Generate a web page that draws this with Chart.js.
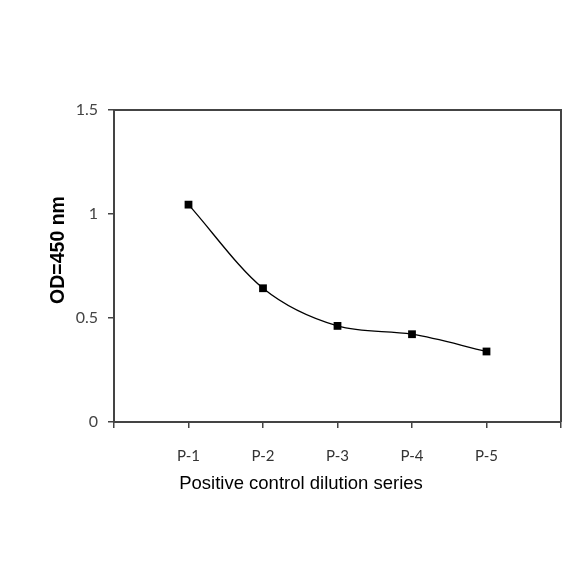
<!DOCTYPE html>
<html>
<head>
<meta charset="utf-8">
<script src="https://cdn.jsdelivr.net/npm/chart.js@4"></script>
<style>
html,body{margin:0;padding:0;background:#fff;}
#wrap{width:584px;height:584px;}
</style>
</head>
<body>
<div id="wrap"><canvas id="c" width="584" height="584"></canvas></div>
<script>
const categories = ["P-1", "P-2", "P-3", "P-4", "P-5"];
const odValues = [1.045, 0.643, 0.462, 0.422, 0.339];
const yTicks = [0, 0.5, 1, 1.5];
const xTitle = 'Positive control dilution series';
const yTitle = 'OD=450 nm';

const points = categories.map((c, i) => ({x: i + 1, y: odValues[i]}));

const boxPlugin = {
  id: 'box',
  afterDatasetsDraw(chart) {
    const {ctx, chartArea: a} = chart;
    ctx.save();
    ctx.strokeStyle = '#444';
    ctx.lineWidth = 2;
    ctx.beginPath();
    ctx.moveTo(a.left, a.top);
    ctx.lineTo(a.right, a.top);
    ctx.lineTo(a.right, a.bottom);
    ctx.stroke();
    ctx.restore();
  }
};

const titlePlugin = {
  id: 'axisTitles',
  afterDraw(chart) {
    const {ctx, chartArea: a} = chart;
    ctx.save();
    ctx.fillStyle = '#000';
    ctx.textAlign = 'center';
    ctx.textBaseline = 'middle';
    ctx.font = '18.5px "Liberation Sans", Arial, sans-serif';
    ctx.fillText(xTitle, a.left + 187, a.bottom + 62);
    ctx.translate(59, a.top + 140);
    ctx.rotate(-Math.PI / 2);
    ctx.font = 'bold 19.5px "Liberation Sans", Arial, sans-serif';
    ctx.fillText(yTitle, 0, 0);
    ctx.restore();
  }
};

new Chart(document.getElementById('c'), {
  type: 'line',
  data: {
    datasets: [{
      data: points,
      borderColor: '#000',
      borderWidth: 1.3,
      cubicInterpolationMode: 'monotone',
      pointStyle: 'rect',
      pointRadius: 5.5,
      pointBackgroundColor: '#000',
      pointBorderColor: '#000',
      pointBorderWidth: 0,
      fill: false
    }]
  },
  options: {
    responsive: false,
    animation: false,
    layout: {padding: {left: 0, top: 110, right: 23, bottom: 0}},
    plugins: {legend: {display: false}, tooltip: {enabled: false}},
    scales: {
      x: {
        type: 'linear',
        min: 0,
        max: categories.length + 1,
        afterFit(s) { s.height = 162; },
        afterBuildTicks(s) { s.ticks = Array.from({length: categories.length + 2}, (_, i) => ({value: i})); },
        grid: {display: true, drawOnChartArea: false, drawTicks: true, tickLength: 6, color: '#444', lineWidth: 1.5},
        border: {display: true, color: '#444', width: 2},
        ticks: {
          autoSkip: false, maxRotation: 0, padding: 19,
          color: '#333',
          font: {family: 'Lato', size: 15},
          callback: v => categories[v - 1] || ''
        }
      },
      y: {
        min: 0,
        max: 1.5,
        afterFit(s) { s.width = 114; },
        afterBuildTicks(s) { s.ticks = yTicks.map(v => ({value: v})); },
        grid: {display: true, drawOnChartArea: false, drawTicks: true, tickLength: 6, color: '#444', lineWidth: 1.5},
        border: {display: true, color: '#444', width: 2},
        ticks: {
          padding: 10,
          color: '#444',
          font: {family: 'Lato', size: 16},
          callback: v => String(v)
        }
      }
    }
  },
  plugins: [boxPlugin, titlePlugin]
});
</script>
</body>
</html>
